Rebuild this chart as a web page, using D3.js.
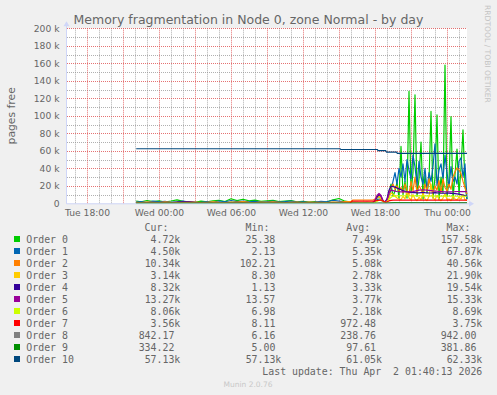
<!DOCTYPE html>
<html>
<head>
<meta charset="utf-8">
<script src="https://cdn.jsdelivr.net/npm/d3@7"></script>
<style>
  html, body { margin: 0; padding: 0; background: #f0f0f0; }
  svg { display: block; }
</style>
</head>
<body>
<div id="chart"></div>
<script>
// All series values are in thousands of free pages.
const seriesNames = ["Order 0", "Order 1", "Order 2", "Order 3", "Order 4", "Order 5",
  "Order 6", "Order 7", "Order 8", "Order 9", "Order 10"];
const seriesColors = ["#00CC00", "#0066B3", "#FF8000", "#FFCC00", "#330099", "#990099",
  "#CCFF00", "#FF0000", "#808080", "#008F00", "#00487D"];

// Sample grid in hours from Wed 00:00: half-hourly while quiet, 10 minutes once busy
const calmHours = [-1.9].concat(d3.range(-1.5, 15.75, 0.5));
const busyHours = d3.range(59).map(k => 16 + k / 6);
const gridHours = calmHours.concat(busyHours);

const order0 = [
  2.5, 1.8, 3.2, 2.0, 2.8, 1.5, 2.6, 3.9, 2.2, 1.2, 1.0, 2.4, 1.6, 2.9, 3.5, 2.1, 5.2, 3.0,
  4.6, 2.8, 3.6, 2.2, 2.9, 3.3, 1.9, 2.4, 3.0, 1.7, 2.2, 1.4, 2.0, 0.03, 1.8, 4.0, 5.5, 2.4,
  1.5, 0.8, 1.2, 0.6, 0.9, 0.5, 0.7, 0.4, 0.6, 0.8, 0.5, 1.0,
  3.0, 6.0, 8.0, 5.0, 2.5, 1.5, 3.0, 12, 22, 8, 14, 24, 6,
  65, 10, 25, 6, 128, 12, 35, 124, 8, 28, 70, 5, 32, 12, 25, 105, 6, 30, 101, 4,
  30, 12, 158, 8, 25, 99, 5, 33, 62, 10, 40, 84, 20, 4.72
];
const order1 = [
  1.5, 2.0, 1.2, 2.5, 1.8, 2.2, 1.0, 1.6, 2.4, 1.4, 0.8, 1.2, 1.9, 1.5, 2.6, 1.8, 3.0, 2.0,
  2.5, 1.6, 2.2, 1.3, 1.8, 2.4, 1.5, 1.9, 2.6, 1.4, 1.7, 1.1, 1.5, 2.2, 1.8, 3.4, 2.5, 1.6,
  1.2, 1.0, 0.8, 1.1, 0.7, 0.9, 0.6, 0.8, 1.0, 0.7, 0.9, 1.2,
  2.5, 4.0, 5.0, 3.5, 2.0, 1.2, 2.0, 8, 15, 25, 35, 22, 40,
  30, 45, 25, 50, 38, 28, 55, 42, 20, 48, 30, 22, 40, 15, 35, 25, 42, 67.9, 20, 38,
  45, 28, 55, 35, 18, 42, 25, 30, 22, 48, 52, 30, 45, 4.5
];
const order2 = [
  1.0, 0.8, 1.5, 1.2, 0.9, 1.8, 1.1, 0.7, 1.3, 2.0, 1.4, 0.9, 1.2, 1.6, 1.0, 0.8, 1.2, 1.5,
  1.9, 1.1, 0.9, 1.4, 1.0, 1.6, 1.2, 0.8, 1.1, 1.5, 0.9, 1.3, 1.0, 1.2, 0.8, 1.4, 1.1, 2.0,
  2.0, 3.8, 3.8, 3.8, 3.8, 3.8, 3.8, 3.8, 3.8, 3.8, 3.8, 3.8,
  5.0, 7.0, 8.0, 6.0, 3.0, 1.5, 4.0, 12, 18, 22, 16, 20, 14,
  18, 12, 22, 15, 10, 25, 14, 30, 12, 20, 16, 10, 22, 14, 28, 18, 12, 20, 15, 26,
  12, 28, 18, 14, 22, 16, 30, 36, 40.5, 38, 34, 25, 18, 10.34
];
const order3 = [
  0.8, 0.6, 1.0, 0.7, 0.9, 0.5, 0.8, 1.2, 0.7, 0.6, 0.9, 0.5, 0.7, 1.0, 0.8, 0.6, 1.3, 0.9,
  1.1, 0.7, 0.8, 0.6, 0.9, 1.0, 0.5, 0.7, 0.9, 0.6, 0.8, 0.5, 0.7, 0.4, 0.6, 1.0, 0.9, 0.7,
  1.0, 0.8, 0.6, 0.9, 0.7, 0.5, 0.8, 0.6, 0.7, 0.9, 0.6, 0.8,
  3.0, 6.0, 8.0, 5.0, 2.0, 1.0, 2.5, 6, 12, 10, 8, 6, 5,
  4, 8, 5, 14, 6, 4, 10, 5, 3, 7, 4, 12, 5, 3, 8, 21.9, 6, 4, 9, 5,
  3, 6, 11, 4, 5, 3, 8, 5, 4, 7, 5, 10, 4, 3.14
];
const order4 = [
  0.5, 0.3, 0.8, 0.4, 0.6, 0.5, 0.9, 1.5, 1.8, 1.6, 1.2, 0.5, 0.8, 0.4, 0.3, 0.6, 0.5, 0.4,
  0.7, 0.3, 0.5, 0.4, 0.3, 0.6, 0.4, 0.5, 0.3, 0.4, 0.6, 0.3, 0.5, 0.4, 0.3, 0.8, 0.5, 0.4,
  0.4, 0.3, 0.5, 0.3, 0.4, 0.2, 0.3, 0.4, 0.3, 0.2, 0.3, 0.5,
  3.0, 7.0, 10.0, 8.0, 3.0, 1.5, 5.0, 15, 19.5, 19.2, 18.5, 17.5, 16.5,
  15.5, 14.5, 13.8, 13.2, 12.8, 12.5, 12.3, 12.2, 12.0, 12.0, 12.2, 12.3, 12.1, 12.0, 11.8,
  11.8, 12.0, 12.2, 12.0, 11.8, 11.6, 11.5, 11.6, 11.8, 11.6, 11.4, 11.2, 11.0, 10.8, 10.5,
  10.0, 9.5, 8.8, 8.32
];
const order5 = [
  0.2, 0.15, 0.25, 0.2, 0.3, 0.2, 0.15, 0.2, 0.25, 0.2, 0.15, 0.2, 0.2, 0.25, 0.3, 0.2, 0.15, 0.2,
  0.25, 0.2, 0.2, 0.15, 0.2, 0.25, 0.2, 0.2, 0.15, 0.2, 0.25, 0.2, 0.2, 0.15, 0.2, 0.3, 0.25, 0.2,
  0.3, 0.2, 0.3, 0.2, 0.3, 0.2, 0.3, 0.2, 0.3, 0.2, 0.3, 0.4,
  4.0, 9.0, 11.4, 9.0, 3.0, 1.0, 4.0, 12, 15.0, 14.5, 14.0, 13.5, 13.2,
  13, 13, 13.2, 13, 13, 13.2, 13.5, 14, 14.5, 15, 15.2, 15.3, 15.2, 15, 14.8, 14.5, 14.2,
  14, 13.8, 13.5, 13.5, 13.3, 13.2, 13.2, 13, 13, 13.2, 13.3, 13.5, 13.5, 13.4, 13.3, 13.3, 13.27
];

// Quieter series, sampled at their own turning points
const order6Hours = [-1.9, 17.9, 18.1, 18.4, 18.7, 18.9, 19.2, 19.4, 19.7, 20.5, 22, 23.5, 25.67];
const order6 = [0.1, 0.1, 1.5, 4.0, 2.0, 0.5, 5.0, 7.5, 8.5, 8.6, 8.5, 8.3, 8.06];
const order7Hours = [-1.9, 15.9, 16.1, 17.9, 18.2, 18.5, 18.9, 19.2, 19.5, 21, 23, 25.67];
const order7 = [0.05, 0.05, 2.5, 2.5, 3.2, 3.7, 1.0, 3.0, 3.6, 3.7, 3.6, 3.56];
const order8Hours = [-1.9, 17.9, 18.4, 18.9, 19.3, 19.6, 22, 24, 25.67];
const order8 = [0.02, 0.05, 0.5, 0.1, 0.8, 0.94, 0.9, 0.88, 0.842];
const order9Hours = [-1.9, 18.9, 19.3, 19.6, 22, 25.67];
const order9 = [0.01, 0.02, 0.3, 0.38, 0.35, 0.334];
const order10Hours = [-1.9, 15.1, 15.15, 18.2, 18.25, 18.9, 18.95, 19.8, 19.85, 25.67];
const order10 = [62.33, 62.33, 61.5, 61.5, 60.2, 60.2, 58.5, 58.5, 57.13, 57.13];

// Legend figures (raw pages)
const legendCur = [4720, 4500, 10340, 3140, 8320, 13270, 8060, 3560, 842.17, 334.22, 57130];
const legendMin = [25.38, 2.13, 102.21, 8.30, 1.13, 13.57, 6.98, 8.11, 6.16, 5.00, 57130];
const legendAvg = [7490, 5350, 5080, 2780, 3330, 3770, 2180, 972.48, 238.76, 97.61, 61050];
const legendMax = [157580, 67870, 40560, 21900, 19540, 15330, 8690, 3750, 942.00, 381.86, 62330];

const yTicks = d3.range(0, 201, 20);

const series = [
  [gridHours, order0], [gridHours, order1], [gridHours, order2], [gridHours, order3],
  [gridHours, order4], [gridHours, order5], [order6Hours, order6], [order7Hours, order7],
  [order8Hours, order8], [order9Hours, order9], [order10Hours, order10]
].map(([hours, values], i) => ({
  name: seriesNames[i],
  color: seriesColors[i],
  points: hours.map((h, j) => ({ h, v: values[j] }))
}));

const width = 497, height = 395;
const plot = { left: 67, right: 467, top: 28.3, bottom: 203.3 };
const fontColor = "#666666";
const axisColor = "#CFD6F8";

const wed0 = Date.UTC(2026, 3, 1, 0, 0);
const tStart = new Date(Date.UTC(2026, 2, 31, 16, 20));
const tEnd = new Date(Date.UTC(2026, 3, 2, 1, 40));

const x = d3.scaleUtc().domain([tStart, tEnd]).range([plot.left, plot.right]);
const y = d3.scaleLinear().domain([0, 200]).range([plot.bottom, plot.top]);

const svg = d3.select("#chart").append("svg")
  .attr("width", width)
  .attr("height", height);

svg.append("rect").attr("width", width).attr("height", height).attr("fill", "#F0F0F0");
svg.append("rect")
  .attr("x", plot.left).attr("y", plot.top)
  .attr("width", plot.right - plot.left).attr("height", plot.bottom - plot.top)
  .attr("fill", "#FFFFFF");

// Grid: minor gray dots, major red dots
const grid = svg.append("g").attr("stroke-dasharray", "1,1").attr("fill", "none");
const minorY = d3.range(10, 201, 10).filter(v => v % 20 !== 0);
const hours = d3.utcHour.range(tStart, tEnd);
const minorColor = "rgba(143,143,143,0.7)";
const majorColor = "rgba(222,79,79,0.8)";

grid.selectAll("line.ymin").data(minorY).join("line")
  .attr("x1", plot.left).attr("x2", plot.right)
  .attr("y1", d => Math.round(y(d)) + 0.5).attr("y2", d => Math.round(y(d)) + 0.5)
  .attr("stroke", minorColor);
grid.selectAll("line.xmin").data(hours.filter(d => d.getUTCHours() % 3 !== 0)).join("line")
  .attr("x1", d => Math.round(x(d)) + 0.5).attr("x2", d => Math.round(x(d)) + 0.5)
  .attr("y1", plot.top).attr("y2", plot.bottom)
  .attr("stroke", minorColor);
grid.selectAll("line.ymaj").data(yTicks.filter(d => d > 0)).join("line")
  .attr("x1", plot.left).attr("x2", plot.right)
  .attr("y1", d => Math.round(y(d)) + 0.5).attr("y2", d => Math.round(y(d)) + 0.5)
  .attr("stroke", majorColor);
grid.selectAll("line.xmaj").data(hours.filter(d => d.getUTCHours() % 3 === 0)).join("line")
  .attr("x1", d => Math.round(x(d)) + 0.5).attr("x2", d => Math.round(x(d)) + 0.5)
  .attr("y1", plot.top).attr("y2", plot.bottom)
  .attr("stroke", majorColor);

// Data lines
const line = d3.line()
  .x(d => x(new Date(wed0 + d.h * 3600e3)))
  .y(d => y(d.v));

svg.append("g").selectAll("path").data(series).join("path")
  .attr("fill", "none")
  .attr("stroke", d => d.color)
  .attr("stroke-width", 1.2)
  .attr("stroke-linejoin", "round")
  .attr("d", d => line(d.points));

// Axes lines with arrows
const axes = svg.append("g").attr("fill", axisColor).attr("stroke", axisColor);
axes.append("line")
  .attr("x1", plot.left - 0.5).attr("x2", plot.right + 4)
  .attr("y1", plot.bottom + 0.5).attr("y2", plot.bottom + 0.5);
axes.append("line")
  .attr("x1", plot.left - 0.5).attr("x2", plot.left - 0.5)
  .attr("y1", plot.bottom + 0.5).attr("y2", plot.top - 4);
axes.append("path").attr("stroke", "none")
  .attr("d", `M${plot.right + 7},${plot.bottom + 0.5} l-5,-3 v6 z`);
axes.append("path").attr("stroke", "none")
  .attr("d", `M${plot.left - 0.5},${plot.top - 7} l-3,5 h6 z`);

// Tick labels
const yAxis = svg.append("g")
  .attr("transform", `translate(${plot.left},0)`)
  .call(d3.axisLeft(y).tickValues(yTicks).tickSize(0).tickPadding(7.5)
    .tickFormat(d => d === 0 ? "0" : `${d} k`));
const xAxis = svg.append("g")
  .attr("transform", `translate(0,${plot.bottom})`)
  .call(d3.axisBottom(x).ticks(d3.utcHour.every(6)).tickSize(0).tickPadding(6.2)
    .tickFormat(d3.utcFormat("%a %H:%M")));
[yAxis, xAxis].forEach(g => {
  g.select(".domain").remove();
  g.attr("font-family", "DejaVu Sans").attr("font-size", 9.2);
  g.selectAll("text").attr("fill", fontColor);
});

// Title and side texts
svg.append("text")
  .attr("x", width / 2).attr("y", 23.5)
  .attr("text-anchor", "middle")
  .attr("font-family", "DejaVu Sans").attr("font-size", 12.5)
  .attr("fill", fontColor)
  .text("Memory fragmentation in Node 0, zone Normal - by day");

svg.append("text")
  .attr("transform", `translate(15,${(plot.top + plot.bottom) / 2}) rotate(-90)`)
  .attr("text-anchor", "middle")
  .attr("font-family", "DejaVu Sans").attr("font-size", 10.8)
  .attr("fill", fontColor)
  .text("pages free");

svg.append("text")
  .attr("transform", "translate(485,5) rotate(90)")
  .attr("font-family", "DejaVu Sans").attr("font-size", 7.6)
  .attr("fill", "#c4c4c4")
  .text("RRDTOOL / TOBI OETIKER");

// Legend
const mono = "DejaVu Sans Mono";
const charW = 5.96;
const colEnds = [180.3, 281.3, 382, 482.3];
const headers = ["Cur:", "Min:", "Avg:", "Max:"];
const fmt = v => v >= 1000 ? (v / 1000).toFixed(2) + "k" : v.toFixed(2);
const legend = svg.append("g")
  .attr("font-family", mono).attr("font-size", 9.9).attr("fill", fontColor);

legend.selectAll("text.hdr").data(headers).join("text")
  .attr("x", (d, i) => colEnds[i] - 2 * charW).attr("y", 231)
  .attr("text-anchor", "end")
  .text(d => d);

const rows = legend.selectAll("g.row").data(series).join("g")
  .attr("transform", (d, i) => `translate(0,${243 + i * 12})`);
rows.append("rect")
  .attr("x", 14).attr("y", -7).attr("width", 6).attr("height", 6)
  .attr("fill", d => d.color);
rows.append("text").attr("x", 26.3).text(d => d.name);
[legendCur, legendMin, legendAvg, legendMax].forEach((col, c) => {
  rows.append("text")
    .attr("x", (d, i) => col[i] >= 1000 ? colEnds[c] : colEnds[c] - charW)
    .attr("text-anchor", "end")
    .text((d, i) => fmt(col[i]));
});

legend.append("text")
  .attr("x", colEnds[3]).attr("y", 375)
  .attr("text-anchor", "end")
  .attr("xml:space", "preserve")
  .style("white-space", "pre")
  .text("Last update: Thu Apr  2 01:40:13 2026");

svg.append("text")
  .attr("x", 248).attr("y", 387)
  .attr("text-anchor", "middle")
  .attr("font-family", "DejaVu Sans").attr("font-size", 7.5)
  .attr("fill", "#c8c8c8")
  .text("Munin 2.0.76");
</script>
</body>
</html>
